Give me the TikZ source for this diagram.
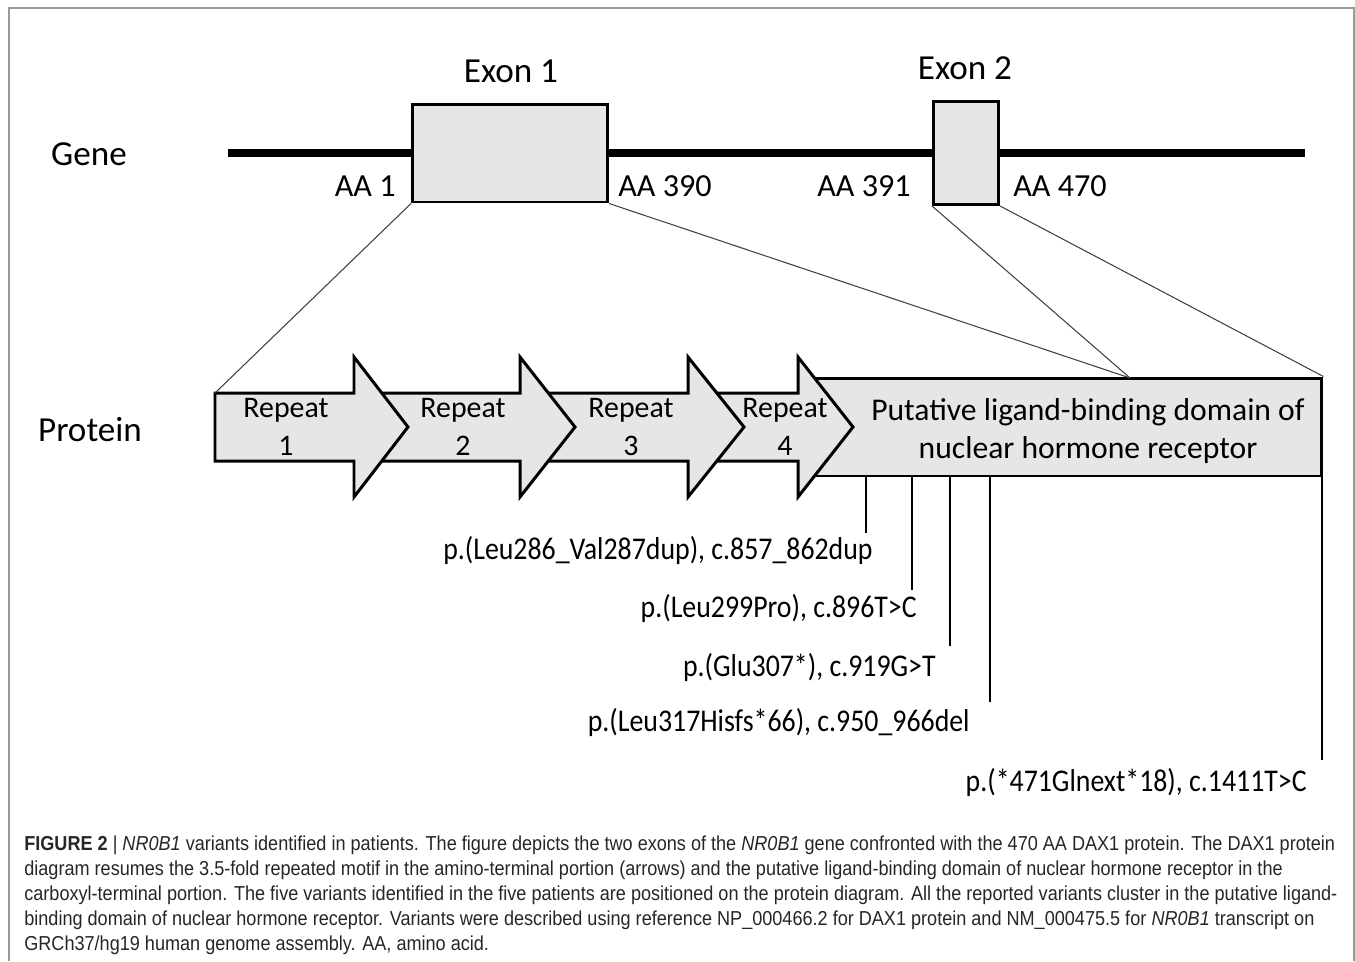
\documentclass[tikz,border=0pt]{standalone}
\usepackage{fontspec}
\setmainfont{Carlito}
\newfontfamily\capfont[FakeStretch=0.895]{Liberation Sans}
\newfontfamily\varfont[FakeStretch=0.88]{Carlito}
\usepackage{xcolor}
\usepackage{tikz}
\usetikzlibrary{positioning,calc}

\definecolor{boxgray}{HTML}{E6E6E6}
\definecolor{framegray}{HTML}{9A9A9A}

\begin{document}
\begin{tikzpicture}[x=0.02cm,y=-0.02cm,
    lab/.style={font=\fontsize{20}{24}\selectfont,inner sep=0pt},
    aa/.style={font=\fontsize{18.3}{22}\selectfont,inner sep=0pt},
    exon/.style={draw,line width=1.7pt,fill=boxgray,inner sep=0pt},
    lbdbox/.style={draw,line width=1.7pt,fill=boxgray,inner sep=0pt},
    repeatarrow/.style={draw,line width=1.7pt,fill=boxgray,line join=miter},
    reptext/.style={font=\fontsize{17}{21.5}\selectfont,align=center,inner sep=0pt},
    guide/.style={draw=black!75,line width=0.6pt},
    varline/.style={line width=1.2pt},
    variant/.style={font=\varfont\fontsize{18}{22}\selectfont,inner sep=0pt,anchor=east}
  ]
    \useasboundingbox (0,0) rectangle (1355,961);
    \draw[framegray,line width=1pt] (9,961) -- (9,8) -- (1354,8) -- (1354,961);

    % gene
    \node[lab] (gene) at (89,154) {Gene};
    \coordinate (gs) at (228,153);
    \coordinate (ge) at (1305,153);
    \draw[line width=4pt] (gs) -- (ge);
    \node[exon,minimum width=3.9cm,minimum height=1.96cm] (ex1) at (510,153) {};
    \node[exon,minimum width=1.3cm,minimum height=2.06cm] (ex2) at (966,153) {};
    \node[lab] (ex1lab) at (511,71) {Exon 1};
    \node[lab] (ex2lab) at (965,68) {Exon 2};
    \node[aa,anchor=east] (aa1) at (396,186) {AA 1};
    \node[aa,anchor=west] (aa390) at (618,186) {AA 390};
    \node[aa,anchor=east] (aa391) at (911,186) {AA 391};
    \node[aa,anchor=west] (aa470) at (1013,186) {AA 470};

    % protein
    \node[lab] (protein) at (90,430) {Protein};
    \node[lbdbox,minimum width=10.34cm,minimum height=1.96cm] (lbd) at (1063.5,427) {};
    \draw[repeatarrow] (688,393) -- (798,393) -- (798,357) -- (853,427) -- (798,497) -- (798,461) -- (688,461) -- cycle;
    \draw[repeatarrow] (520,393) -- (688,393) -- (688,357) -- (744,427) -- (688,497) -- (688,461) -- (520,461) -- cycle;
    \draw[repeatarrow] (354,393) -- (520,393) -- (520,357) -- (575,427) -- (520,497) -- (520,461) -- (354,461) -- cycle;
    \draw[repeatarrow] (215,393) coordinate (r1nw) -- (354,393) -- (354,357) -- (408,427) -- (354,497) -- (354,461) -- (215,461) -- cycle;
    \node[reptext] (rep1) at (286,427) {Repeat\\1};
    \node[reptext] (rep2) at (463,427) {Repeat\\2};
    \node[reptext] (rep3) at (631,427) {Repeat\\3};
    \node[reptext] (rep4) at (785,427) {Repeat\\4};
    \node[reptext,font=\fontsize{18}{21.5}\selectfont] (lbdtext) at (1088,431) {Putative ligand-binding domain of\\nuclear hormone receptor};

    % exons to protein
    \coordinate (join) at (1130,378);
    \draw[guide] (ex1.south west) -- (r1nw);
    \draw[guide] (ex1.south east) -- (join);
    \draw[guide] (ex2.south west) -- (join);
    \draw[guide] (ex2.south east) -- (lbd.north east);

    % variants
    \coordinate (v1) at (866,533);
    \coordinate (v2) at (912,590);
    \coordinate (v3) at (950,646);
    \coordinate (v4) at (990,702);
    \coordinate (v5) at (1322,760);
    \draw[varline] (v1 |- lbd.south) -- (v1);
    \draw[varline] (v2 |- lbd.south) -- (v2);
    \draw[varline] (v3 |- lbd.south) -- (v3);
    \draw[varline] (v4 |- lbd.south) -- (v4);
    \draw[varline] (v5 |- lbd.south) -- (v5);
    \node[variant] (var1) at (873,550) {p.(Leu286\_Val287dup), c.857\_862dup};
    \node[variant] (var2) at (917,608) {p.(Leu299Pro), c.896T>C};
    \node[variant] (var3) at (936,667) {p.(Glu307*), c.919G>T};
    \node[variant] (var4) at (970,722) {p.(Leu317Hisfs*66), c.950\_966del};
    \node[variant] (var5) at (1307,782) {p.(*471Glnext*18), c.1411T>C};

    % caption
    \node[anchor=north west,inner sep=0pt,align=left,text=black!85,
      font=\capfont\fontsize{11.5}{14.23}\selectfont] (caption) at (24,835)
      {\textbf{FIGURE 2} | \textit{NR0B1} variants identified in patients. The figure depicts the two exons of the \textit{NR0B1} gene confronted with the 470 AA DAX1 protein. The DAX1 protein\\
       diagram resumes the 3.5-fold repeated motif in the amino-terminal portion (arrows) and the putative ligand-binding domain of nuclear hormone receptor in the\\
       carboxyl-terminal portion. The five variants identified in the five patients are positioned on the protein diagram. All the reported variants cluster in the putative ligand-\\
       binding domain of nuclear hormone receptor. Variants were described using reference NP\_000466.2 for DAX1 protein and NM\_000475.5 for \textit{NR0B1} transcript on\\
       GRCh37/hg19 human genome assembly. AA, amino acid.};
  \end{tikzpicture}
\end{document}
